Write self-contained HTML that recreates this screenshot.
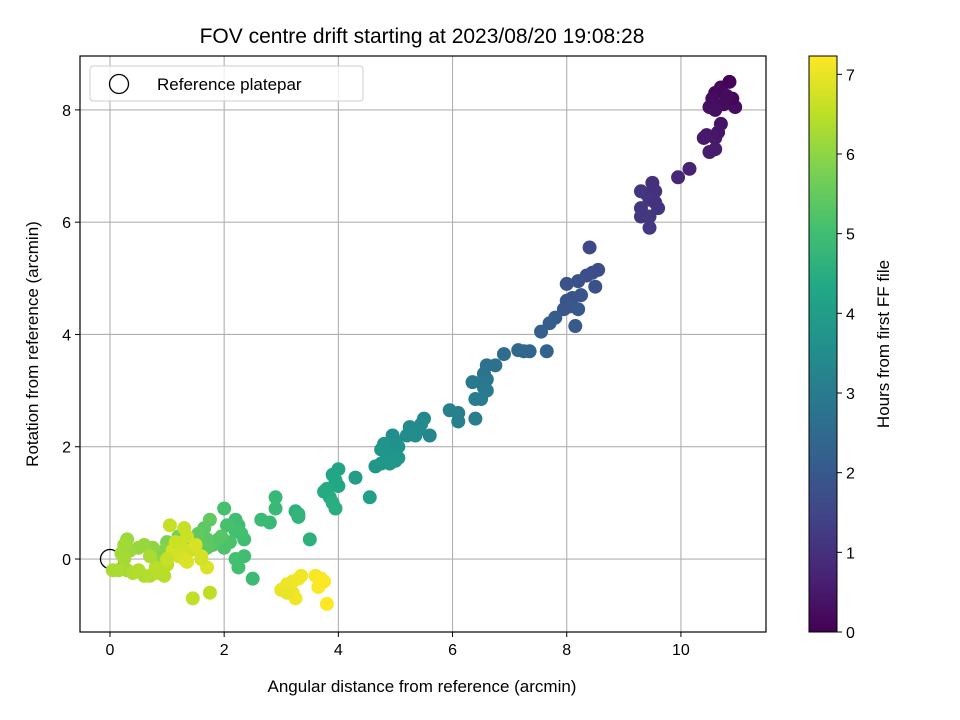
<!DOCTYPE html>
<html><head><meta charset="utf-8"><style>
body{margin:0;background:#fff;}
svg{display:block;font-family:"Liberation Sans","DejaVu Sans",sans-serif;}
</style></head><body>
<svg id="chart" width="960" height="720" xmlns="http://www.w3.org/2000/svg">
<defs>
<linearGradient id="vir" x1="0" y1="1" x2="0" y2="0">
<stop offset="0" stop-color="#440154"/><stop offset="0.1" stop-color="#482475"/><stop offset="0.2" stop-color="#414487"/><stop offset="0.3" stop-color="#355f8d"/><stop offset="0.4" stop-color="#2a788e"/><stop offset="0.5" stop-color="#21918c"/><stop offset="0.6" stop-color="#22a884"/><stop offset="0.7" stop-color="#44bf70"/><stop offset="0.8" stop-color="#7ad151"/><stop offset="0.9" stop-color="#bddf26"/><stop offset="1" stop-color="#fde725"/>
</linearGradient>
</defs>
<rect width="960" height="720" fill="#fff"/>
<text x="422" y="43" font-size="21" text-anchor="middle">FOV centre drift starting at 2023/08/20 19:08:28</text>
<g id="grid"></g>
<g id="points"></g>
<g id="axes"></g>
<text x="422" y="692" font-size="17" text-anchor="middle">Angular distance from reference (arcmin)</text>
<text transform="translate(38,344) rotate(-90)" font-size="17" text-anchor="middle">Rotation from reference (arcmin)</text>
<g>
<rect x="90" y="66" width="273" height="35" rx="3" fill="#fff" fill-opacity="0.8" stroke="#ccc"/>
<circle cx="119" cy="84" r="9.5" fill="none" stroke="#000" stroke-width="1.3"/>
<text x="157" y="90" font-size="17">Reference platepar</text>
</g>
<rect x="809" y="56" width="28" height="576" fill="url(#vir)" stroke="#000" stroke-width="1"/>
<g id="cbar"></g>
<text transform="translate(889,344) rotate(-90)" font-size="17" text-anchor="middle">Hours from first FF file</text>
</svg>
<script>
const xs=[10.6,10.7,10.85,10.75,10.95,10.5,10.6,10.9,10.7,10.8,10.55,10.45,10.6,10.5,10.6,10.4,10.65,10.15,9.95,9.5,9.55,9.4,9.3,9.45,9.6,9.3,9.3,9.45,9.45,9.55,8.4,8.55,8.45,8.35,8.5,8.2,8.0,8.1,8.25,8.0,7.95,8.05,8.2,8.15,7.8,7.7,7.55,7.65,7.35,7.25,7.15,6.9,6.75,6.6,6.55,6.6,6.5,6.35,6.55,6.6,6.5,6.4,6.4,6.1,6.1,5.95,5.6,5.5,5.45,5.4,5.3,5.25,5.2,5.35,5.0,4.95,5.05,4.9,4.8,4.75,4.85,5.0,4.95,5.05,4.75,4.65,4.9,4.3,4.55,3.9,4.0,3.95,4.0,3.8,3.75,3.85,3.9,3.95,3.5,3.25,3.3,3.3,2.9,2.8,2.9,2.65,2.5,2.35,2.2,2.25,2.3,2.2,2.05,2.0,2.35,2.2,2.25,2.1,2.0,1.9,1.8,1.7,1.65,1.75,1.55,1.95,1.7,1.4,1.3,1.2,1.1,1.0,0.95,0.85,0.9,0.75,0.6,0.5,0.35,0.3,0.25,0.2,0.25,0.3,0.05,0.15,0.4,0.6,0.5,0.7,0.85,0.95,0.8,1.0,0.7,1.05,1.3,1.35,1.4,1.25,1.2,1.1,1.3,1.5,1.6,1.35,1.0,1.15,1.7,1.75,1.45,1.6,3.0,3.1,3.2,3.3,3.35,3.2,3.25,3.6,3.7,3.75,3.65,3.8,3.1];
const ys=[8.3,8.4,8.5,8.1,8.05,8.05,8.0,8.2,7.75,8.25,8.2,7.55,7.5,7.25,7.3,7.5,7.6,6.95,6.8,6.7,6.55,6.5,6.55,6.4,6.25,6.25,6.1,6.1,5.9,6.35,5.55,5.15,5.1,5.05,4.85,4.95,4.9,4.65,4.7,4.6,4.45,4.5,4.45,4.15,4.3,4.2,4.05,3.7,3.7,3.7,3.72,3.65,3.45,3.45,3.3,3.2,3.15,3.15,3.05,3.0,2.85,2.85,2.5,2.6,2.45,2.65,2.2,2.5,2.4,2.3,2.25,2.35,2.2,2.2,2.1,2.2,2.0,1.95,2.05,1.95,1.8,1.75,1.85,1.8,1.7,1.65,1.7,1.45,1.1,1.5,1.6,1.4,1.3,1.25,1.2,1.1,1.0,0.9,0.35,0.85,0.75,0.8,1.1,0.65,0.9,0.7,-0.35,0.35,0.7,0.6,0.45,0.5,0.6,0.9,0.05,0.0,-0.15,0.3,0.2,0.35,0.25,0.35,0.55,0.7,0.45,0.4,0.2,0.25,0.35,0.4,0.2,0.3,0.15,0.1,-0.05,0.2,0.25,0.2,0.15,0.35,0.25,0.1,0.0,-0.2,-0.2,-0.2,-0.25,-0.3,-0.2,-0.3,-0.25,-0.3,-0.15,-0.1,0.05,0.6,0.55,0.4,0.15,0.2,0.05,0.15,0.0,0.25,0.05,-0.05,0.0,0.3,-0.15,-0.6,-0.7,0.0,-0.55,-0.45,-0.4,-0.35,-0.3,-0.6,-0.7,-0.3,-0.35,-0.4,-0.5,-0.8,-0.6];
const hours=[0.1,0.15,0.05,0.2,0.25,0.3,0.3,0.15,0.4,0.2,0.25,0.5,0.5,0.55,0.55,0.5,0.45,0.7,0.8,1.0,1.0,1.05,1.1,1.1,1.1,1.15,1.15,1.2,1.2,1.05,1.6,1.7,1.7,1.75,1.8,1.8,1.85,1.85,1.9,1.9,1.95,1.95,2.0,2.0,2.1,2.15,2.2,2.3,2.35,2.4,2.45,2.55,2.65,2.7,2.75,2.8,2.85,2.9,2.9,2.95,3.0,3.0,3.05,3.1,3.15,3.15,3.3,3.35,3.4,3.4,3.45,3.45,3.5,3.5,3.6,3.6,3.65,3.65,3.7,3.7,3.75,3.75,3.75,3.8,3.8,3.8,3.8,4.0,4.1,4.2,4.25,4.3,4.3,4.4,4.4,4.45,4.5,4.5,4.6,4.6,4.65,4.7,4.8,4.85,4.85,4.9,4.9,5.0,5.0,5.0,5.05,5.05,5.1,5.1,5.0,5.05,5.05,5.15,5.2,5.2,5.3,5.35,5.4,5.45,5.45,5.3,5.4,5.6,5.6,5.7,5.75,5.8,5.9,5.9,6.0,6.0,6.1,6.1,6.15,6.15,6.2,6.2,6.25,6.25,6.3,6.3,6.35,6.35,6.4,6.4,6.45,6.45,6.45,6.5,6.3,6.6,6.6,6.65,6.7,6.7,6.75,6.75,6.8,6.8,6.8,6.85,6.6,6.65,6.85,6.5,6.55,6.75,7.0,7.05,7.05,7.1,7.1,7.05,7.1,7.15,7.2,7.2,7.2,7.25,7.0];
const xTicks=[0,2,4,6,8,10];
const yTicks=[0,2,4,6,8];
const cTicks=[0,1,2,3,4,5,6,7];
const L=80,R=766,T=56,B=632,XMIN=-0.525,XMAX=11.49,YMIN=-1.3,YMAX=8.96,CMAX=7.23;
const sx=v=>L+(v-XMIN)/(XMAX-XMIN)*(R-L);
const sy=v=>B-(v-YMIN)/(YMAX-YMIN)*(B-T);
const sc=v=>632-v/CMAX*576;
const stops=[[68,1,84],[72,36,117],[65,68,135],[53,95,141],[42,120,142],[33,145,140],[34,168,132],[68,191,112],[122,209,81],[189,223,38],[253,231,37]];
function vir(t){t=Math.max(0,Math.min(1,t))*10;const i=Math.min(9,Math.floor(t)),f=t-i;const a=stops[i],b=stops[i+1];return 'rgb('+a.map((c,k)=>Math.round(c+(b[k]-c)*f)).join(',')+')';}
const NS='http://www.w3.org/2000/svg';
function mk(tag,attrs,parent){const e=document.createElementNS(NS,tag);for(const k in attrs)e.setAttribute(k,attrs[k]);parent.appendChild(e);return e;}
const grid=document.getElementById('grid'),pts=document.getElementById('points'),axes=document.getElementById('axes'),cbar=document.getElementById('cbar');
xTicks.forEach(v=>{const l=mk('line',{x1:sx(v),x2:sx(v),y1:T,y2:B,stroke:'#b0b0b0','stroke-width':1.1},grid);


const k=mk('line',{x1:sx(v),x2:sx(v),y1:B,y2:B+5,stroke:'#000'},axes);


const t=mk('text',{x:sx(v),y:B+23,'font-size':16,'text-anchor':'middle'},axes);t.textContent=v;

});
yTicks.forEach(v=>{const l=mk('line',{x1:L,x2:R,y1:sy(v),y2:sy(v),stroke:'#b0b0b0','stroke-width':1.1},grid);


const k=mk('line',{x1:L-5,x2:L,y1:sy(v),y2:sy(v),stroke:'#000'},axes);


const t=mk('text',{x:L-9,y:sy(v)+6,'font-size':16,'text-anchor':'end'},axes);t.textContent=v;

});
const ref=mk('circle',{cx:sx(0),cy:sy(0),r:9.5,fill:'none',stroke:'#000','stroke-width':1.3},pts);


xs.forEach((x,i)=>{const c=mk('circle',{cx:sx(x),cy:sy(ys[i]),r:7,fill:vir(hours[i]/CMAX)},pts);

});
const fr=mk('rect',{x:L,y:T,width:R-L,height:B-T,fill:'none',stroke:'#000','stroke-width':1.2},axes);


cTicks.forEach(v=>{const k=mk('line',{x1:837,x2:842,y1:sc(v),y2:sc(v),stroke:'#000'},cbar);


const t=mk('text',{x:846,y:sc(v)+6,'font-size':16},cbar);t.textContent=v;

});
</script>
</body></html>
